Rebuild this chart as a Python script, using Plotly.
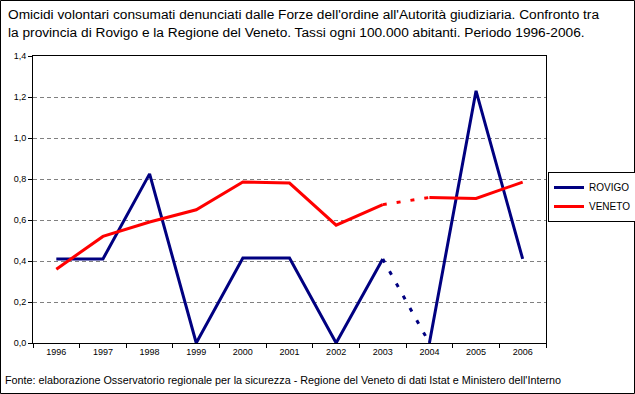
import plotly.graph_objects as go

years = ["1996", "1997", "1998", "1999", "2000", "2001", "2002", "2003", "2004", "2005", "2006"]
rovigo = [0.41, 0.41, 0.825, 0.0, 0.415, 0.415, 0.0, 0.41, 0.0, 1.23, 0.41]
veneto = [0.36, 0.52, 0.59, 0.65, 0.785, 0.78, 0.575, 0.675, 0.71, 0.705, 0.785]
dotted_from = 7  # segment 2003 -> 2004 drawn dotted

W, H = 635, 394
ML, MR, MT, MB = 33, 89, 56, 51
PW, PH = W - ML - MR, H - MT - MB

FONT = "Liberation Sans"


def solid_parts(vals):
    xs = years[:dotted_from + 1] + [None] + years[dotted_from + 1:]
    ys = vals[:dotted_from + 1] + [None] + vals[dotted_from + 1:]
    return xs, ys


def py(pix):
    """pixel row -> paper y"""
    return (MT + PH - pix) / PH


def px(pix):
    return (pix - ML) / PW


fig = go.Figure()
for name, vals, color in [("ROVIGO", rovigo, "#000080"),
                          ("VENETO", veneto, "#FF0000")]:
    xs, ys = solid_parts(vals)
    fig.add_trace(go.Scatter(x=xs, y=ys, name=name, mode="lines",
                             line=dict(color=color, width=3),
                             connectgaps=False, cliponaxis=False))
    fig.add_trace(go.Scatter(x=years[dotted_from:dotted_from + 2],
                             y=vals[dotted_from:dotted_from + 2],
                             mode="lines", showlegend=False, hoverinfo="skip",
                             line=dict(color=color, width=3, dash="4px,10px"),
                             cliponaxis=False))

fig.update_layout(
    width=W, height=H,
    margin=dict(l=ML, r=MR, t=MT, b=MB, autoexpand=False),
    paper_bgcolor="white", plot_bgcolor="white",
    separators=",.",
    font=dict(family=FONT, size=10, color="black"),
    xaxis=dict(
        type="category", range=[-0.5, 10.5],
        showline=True, linecolor="black", linewidth=1, mirror=True,
        ticks="outside", tickson="boundaries", ticklen=4, tickcolor="black",
        showgrid=False, tickfont=dict(size=9),
    ),
    yaxis=dict(
        range=[0, 1.4], dtick=0.2, tickformat=".1f",
        showline=True, linecolor="black", linewidth=1, mirror=True,
        ticks="outside", ticklen=4, tickcolor="black",
        showgrid=True, gridcolor="#808080", gridwidth=1, griddash="4px,3px",
        zeroline=False, tickfont=dict(size=9),
    ),
    legend=dict(
        x=px(548), xanchor="left", y=py(197), yanchor="middle",
        bordercolor="black", borderwidth=1, bgcolor="white",
        font=dict(size=10), itemwidth=30, tracegroupgap=0,
    ),
    showlegend=True,
)

fig.add_annotation(
    text="Omicidi volontari consumati denunciati dalle Forze dell'ordine all'Autorità giudiziaria. Confronto tra<br>la provincia di Rovigo e la Regione del Veneto. Tassi ogni 100.000 abitanti. Periodo 1996-2006.",
    xref="paper", yref="paper", x=px(6), y=py(5),
    xanchor="left", yanchor="top", align="left", showarrow=False,
    font=dict(family=FONT, size=13.7, color="black"),
)

fig.add_annotation(
    text="Fonte: elaborazione Osservatorio regionale per la sicurezza - Regione del Veneto di dati Istat e Ministero dell'Interno",
    xref="paper", yref="paper", x=px(3), y=py(380),
    xanchor="left", yanchor="middle", showarrow=False,
    font=dict(family=FONT, size=10.8, color="black"),
)

fig.add_shape(type="rect", xref="paper", yref="paper",
              x0=px(0.5), x1=px(W - 0.5),
              y0=py(H - 0.5), y1=py(0.5),
              line=dict(color="black", width=1), fillcolor="rgba(0,0,0,0)",
              layer="above")

fig.write_html("out.html", config={"displayModeBar": False},
               post_script="document.body.style.margin='0';document.body.style.padding='0';")
